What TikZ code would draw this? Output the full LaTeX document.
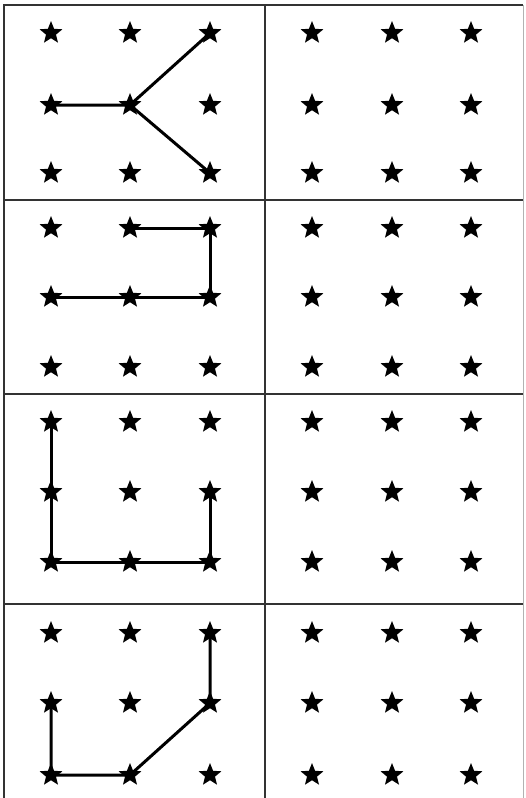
\documentclass[tikz,border=0pt]{standalone}
\usetikzlibrary{shapes.geometric}
\begin{document}
\begin{tikzpicture}[x=1pt,y=-1pt,
  starnode/.style={star,star points=5,star point ratio=2.3,fill=black,draw=none,inner sep=0pt,minimum size=24pt},
  gridline/.style={draw=black!80,line width=1.1pt},
  pathline/.style={draw=black,line width=3pt,line join=miter}]
\useasboundingbox (0,0) rectangle (525,798);
% grid
\draw[gridline] (4,798) -- (4,5) -- (523,5);
\draw[draw=black!30,line width=0.8pt] (523,5) -- (523,798);
\draw[gridline] (265,5) -- (265,798);
\draw[gridline] (4,200) -- (523,200);
\draw[gridline] (4,394) -- (523,394);
\draw[gridline] (4,604) -- (523,604);
% stars: s<row>l<i><j> (left panel), s<row>r<i><j> (right panel)
\foreach \r/\ya/\yb/\yc in {1/33/105/173, 2/228/297/367, 3/422/492/562, 4/633/703/775}{
  \foreach \j/\yy in {1/\ya, 2/\yb, 3/\yc}{
    \foreach \i/\xl/\xr in {1/51/312, 2/130/392, 3/210/471}{
      \node[starnode] (s\r l\i\j) at (\xl,\yy) {};
      \node[starnode] (s\r r\i\j) at (\xr,\yy) {};
    }
  }
}
% paths
\draw[pathline] (s1l12.center) -- (s1l22.center) -- (s1l31.center);
\draw[pathline] (s1l22.center) -- (s1l33.center);
\draw[pathline] (s2l12.center) -- (s2l22.center) -- (s2l32.center) -- (s2l31.center) -- (s2l21.center);
\draw[pathline] (s3l11.center) -- (s3l12.center) -- (s3l13.center) -- (s3l23.center) -- (s3l33.center) -- (s3l32.center);
\draw[pathline] (s4l12.center) -- (s4l13.center) -- (s4l23.center) -- (s4l32.center) -- (s4l31.center);
\end{tikzpicture}
\end{document}
